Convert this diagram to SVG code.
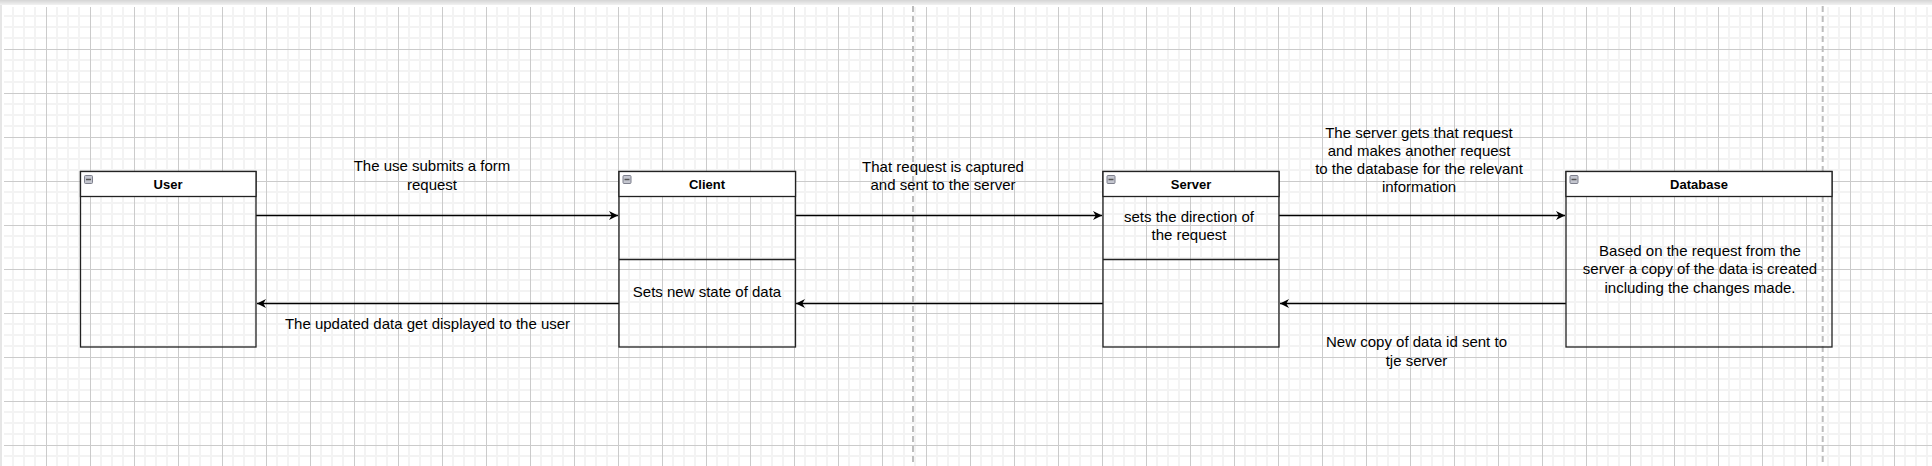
<svg xmlns="http://www.w3.org/2000/svg" width="1932" height="466" viewBox="0 0 1932 466">
<style>
.box{fill:none;stroke:#222;stroke-width:1.3}
.hdr{fill:#fff;stroke:#222;stroke-width:1.3}
.div{stroke:#222;stroke-width:1.3}
.ht{font-family:"Liberation Sans",Arial,Helvetica,sans-serif;font-size:13px;font-weight:bold;fill:#000;text-anchor:middle}
.t{font-family:"Liberation Sans",Arial,Helvetica,sans-serif;font-size:15px;fill:#000;text-anchor:middle}
.con{stroke:#000;stroke-width:1.3;fill:none;marker-end:url(#arr)}
.dash{stroke:#bdbdbd;stroke-width:2;stroke-dasharray:6 4}
.ico{fill:#c4c6cf;stroke:#7d7f8c;stroke-width:1}
.icl{stroke:#555;stroke-width:1.5}
</style>
<defs>
<linearGradient id="topbar" x1="0" y1="0" x2="0" y2="1">
<stop offset="0" stop-color="#d4d4d4"/>
<stop offset="1" stop-color="#f2f2f2"/>
</linearGradient>
<pattern id="grid" patternUnits="userSpaceOnUse" x="2" y="5" width="44" height="44">
<rect x="10" y="0" width="2" height="44" fill="#f3f3f3"/>
<rect x="21" y="0" width="2" height="44" fill="#f3f3f3"/>
<rect x="32" y="0" width="2" height="44" fill="#f3f3f3"/>
<rect x="0" y="10" width="44" height="2" fill="#f3f3f3"/>
<rect x="0" y="21" width="44" height="2" fill="#f3f3f3"/>
<rect x="0" y="32" width="44" height="2" fill="#f3f3f3"/>
<rect x="0" y="0" width="1" height="44" fill="#cbcbcb"/>
<rect x="0" y="0" width="44" height="1" fill="#cbcbcb"/>
</pattern>
<marker id="arr" viewBox="0 0 10 10" markerUnits="userSpaceOnUse" markerWidth="9" markerHeight="9" refX="10" refY="5" orient="auto">
<path d="M0,0 L10,5 L0,10 L3,5 Z" fill="#000"/>
</marker>
</defs>
<rect x="0" y="0" width="1932" height="466" fill="#fff"/>
<rect x="0" y="0" width="1932" height="5" fill="url(#topbar)"/>
<rect x="0" y="5" width="2" height="461" fill="#e6e6e6"/>
<rect x="4" y="7" width="1928" height="459" fill="url(#grid)"/>
<g id="guides">
<line class="dash" x1="913" y1="6" x2="913" y2="466"/>
<line class="dash" x1="1822.7" y1="6" x2="1822.7" y2="466"/>
</g>
<g id="connectors">
<line class="con" x1="256" y1="215.5" x2="618" y2="215.5"/>
<line class="con" x1="795.5" y1="215.5" x2="1102" y2="215.5"/>
<line class="con" x1="1279" y1="215.5" x2="1565" y2="215.5"/>
<line class="con" x1="1566" y1="303.5" x2="1280" y2="303.5"/>
<line class="con" x1="1103" y1="303.5" x2="796" y2="303.5"/>
<line class="con" x1="619" y1="303.5" x2="257" y2="303.5"/>
<text class="t" x="432" y="170.7">The use submits a form</text>
<text class="t" x="432" y="190">request</text>
<text class="t" x="943" y="171.7">That request is captured</text>
<text class="t" x="943" y="190">and sent to the server</text>
<text class="t" x="1419" y="137.7">The server gets that request</text>
<text class="t" x="1419" y="155.9">and makes another request</text>
<text class="t" x="1419" y="174.1">to the database for the relevant</text>
<text class="t" x="1419" y="192.3">information</text>
<text class="t" x="1416.5" y="347.3">New copy of data id sent to</text>
<text class="t" x="1416.5" y="366">tje server</text>
<text class="t" x="427.5" y="329.3">The updated data get displayed to the user</text>
</g>
<g id="user">
<rect class="box" x="80.5" y="171.5" width="175.5" height="175.5"/>
<rect class="hdr" x="80.5" y="171.5" width="175.5" height="25"/>
<rect class="ico" x="84.5" y="175.5" width="8" height="8" rx="1"/>
<line class="icl" x1="86" y1="179.5" x2="91" y2="179.5"/>
<text class="ht" x="168" y="189">User</text>
</g>
<g id="client">
<rect class="box" x="619" y="171.5" width="176.5" height="175.5"/>
<rect class="hdr" x="619" y="171.5" width="176.5" height="25"/>
<rect class="ico" x="623" y="175.5" width="8" height="8" rx="1"/>
<line class="icl" x1="624.5" y1="179.5" x2="629.5" y2="179.5"/>
<text class="ht" x="707" y="189">Client</text>
<line class="div" x1="619" y1="259.5" x2="795.5" y2="259.5"/>
<text class="t" x="707" y="296.7">Sets new state of data</text>
</g>
<g id="server">
<rect class="box" x="1103" y="171.5" width="176" height="175.5"/>
<rect class="hdr" x="1103" y="171.5" width="176" height="25"/>
<rect class="ico" x="1107" y="175.5" width="8" height="8" rx="1"/>
<line class="icl" x1="1108.5" y1="179.5" x2="1113.5" y2="179.5"/>
<text class="ht" x="1191" y="189">Server</text>
<line class="div" x1="1103" y1="259.5" x2="1279" y2="259.5"/>
<text class="t" x="1189" y="221.7">sets the direction of</text>
<text class="t" x="1189" y="239.5">the request</text>
</g>
<g id="database">
<rect class="box" x="1566" y="171.5" width="266" height="175.5"/>
<rect class="hdr" x="1566" y="171.5" width="266" height="25"/>
<rect class="ico" x="1570" y="175.5" width="8" height="8" rx="1"/>
<line class="icl" x1="1571.5" y1="179.5" x2="1576.5" y2="179.5"/>
<text class="ht" x="1699" y="189">Database</text>
<text class="t" x="1700" y="256">Based on the request from the</text>
<text class="t" x="1700" y="274.3">server a copy of the data is created</text>
<text class="t" x="1700" y="292.6">including the changes made.</text>
</g>
</svg>
